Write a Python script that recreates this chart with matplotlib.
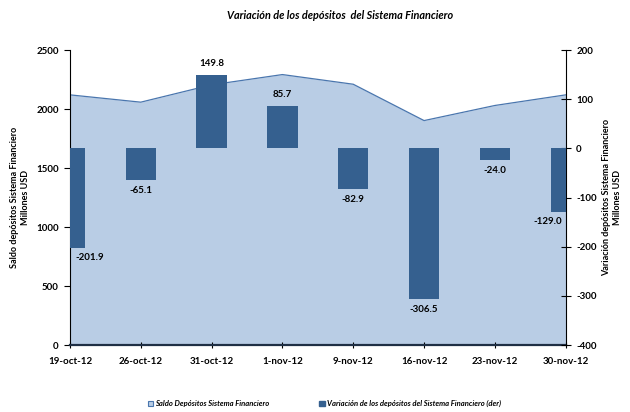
import matplotlib
matplotlib.use("Agg")
import matplotlib.pyplot as plt
import numpy as np
from matplotlib.patches import Patch

plt.rcParams['font.family'] = ['Lato', 'DejaVu Sans']

categories = ["19-oct-12", "26-oct-12", "31-oct-12", "1-nov-12", "9-nov-12",
              "16-nov-12", "23-nov-12", "30-nov-12"]
saldo = [2120, 2058, 2205, 2292, 2210, 1902, 2030, 2120]
variacion = [-201.9, -65.1, 149.8, 85.7, -82.9, -306.5, -24.0, -129.0]
left_ticks = [0, 500, 1000, 1500, 2000, 2500]
right_ticks = [-400, -300, -200, -100, 0, 100, 200]

area_fill = "#B9CDE5"
area_line = "#4A76AE"
bar_color = "#35608F"

fig = plt.figure(figsize=(6.30, 4.12), dpi=100)
ax = fig.add_axes([0.111, 0.1626, 0.787, 0.716])
x = np.arange(len(categories))

ax.fill_between(x, saldo, 0, color=area_fill, lw=0)
ax.plot(x, saldo, color=area_line, lw=0.9)
ax.set_xlim(0, len(categories) - 1)
ax.set_ylim(0, 2500)
ax.set_yticks(left_ticks)
ax.set_yticklabels([str(t) for t in left_ticks], fontsize=7, fontweight='bold')
ax.set_xticks(x)
ax.set_xticklabels(categories, fontsize=7, fontweight='bold')
ax.tick_params(axis='x', direction='inout', length=5, width=0.8, pad=6)
ax.tick_params(axis='y', direction='out', length=4, width=0.8, pad=4)
ax.spines['top'].set_visible(False)
ax.spines['bottom'].set_linewidth(1.6)
ax.spines['bottom'].set_color('#1F2F45')
ax.spines['left'].set_linewidth(0.8)
ax.spines['right'].set_visible(False)

ax2 = ax.twinx()
ax2.bar(x, variacion, width=0.43, color=bar_color, zorder=3)
ax2.set_ylim(-400, 200)
ax2.set_yticks(right_ticks)
ax2.set_yticklabels([str(t) for t in right_ticks], fontsize=7, fontweight='bold')
ax2.tick_params(axis='y', direction='inout', length=7, width=0.8, pad=4)
ax2.spines['top'].set_visible(False)
ax2.spines['left'].set_visible(False)
ax2.spines['bottom'].set_visible(False)
ax2.spines['right'].set_linewidth(0.8)
ax2.set_xlim(0, len(categories) - 1)

n = len(categories)
for i, v in enumerate(variacion):
    xi = i
    if i == 0:
        xi = i + 0.28
    elif i == n - 1:
        xi = i - 0.25
    if v >= 0:
        ax2.annotate(f"{v:.1f}", (xi, v), xytext=(0, 5), textcoords='offset points',
                     ha='center', va='bottom', fontsize=7, fontweight='bold')
    else:
        ax2.annotate(f"{v:.1f}", (xi, v), xytext=(0, -4), textcoords='offset points',
                     ha='center', va='top', fontsize=7, fontweight='bold')

fig.text(0.54, 0.963, "Variación de los depósitos  del Sistema Financiero",
         ha='center', va='center', fontsize=7.8, fontweight='bold', style='italic')
fig.text(0.032, 0.52, "Saldo depósitos Sistema Financiero\nMillones USD",
         rotation=90, ha='center', va='center', fontsize=6.5, fontweight='bold',
         linespacing=1.3)
fig.text(0.972, 0.52, "Variación depósitos Sistema Financiero\nMillones USD",
         rotation=90, ha='center', va='center', fontsize=6.5, fontweight='bold',
         linespacing=1.3)

handles = [Patch(facecolor=area_fill, edgecolor=area_line, lw=0.8),
           Patch(facecolor=bar_color, edgecolor=bar_color)]
labels = ["Saldo Depósitos Sistema Financiero",
          "Variación de los depósitos del Sistema Financiero (der)"]
fig.legend(handles, labels, loc='center', bbox_to_anchor=(0.515, 0.02), ncol=2,
           frameon=False, prop={'size': 5.5, 'style': 'italic', 'weight': 'bold'},
           handlelength=0.7, handleheight=0.7, handletextpad=0.3, columnspacing=6.5)

fig.savefig("out.png", dpi=100)
